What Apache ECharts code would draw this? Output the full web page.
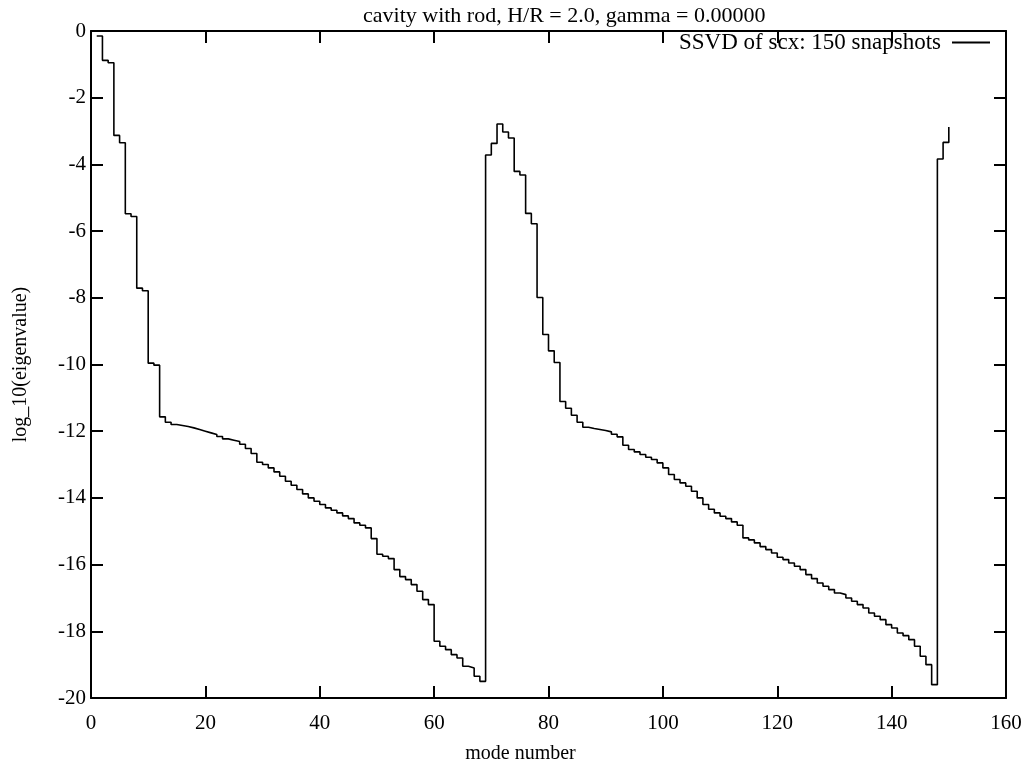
<!DOCTYPE html>
<html><head><meta charset="utf-8">
<script src="https://cdn.jsdelivr.net/npm/echarts@6/dist/echarts.min.js"></script>
<style>html,body{margin:0;padding:0;background:#fff}#c{width:1033px;height:769px}</style>
</head><body><div id="c"></div>
<script>
const chartTitle = 'cavity with rod, H/R = 2.0, gamma = 0.00000';
const seriesName = 'SSVD of scx: 150 snapshots';
const xName = 'mode number';
const yName = 'log_10(eigenvalue)';
const xTicks = [0, 20, 40, 60, 80, 100, 120, 140, 160];
const yTicks = [-20, -18, -16, -14, -12, -10, -8, -6, -4, -2, 0];

// modes 1..68
const branch1 = [
  -0.15, -0.88, -0.95, -3.13, -3.35, -5.48, -5.56, -7.71, -7.79, -9.96,
  -10.02, -11.57, -11.73, -11.80, -11.83, -11.86, -11.90, -11.95, -12.00, -12.05,
  -12.10, -12.16, -12.23, -12.27, -12.31, -12.39, -12.52, -12.67, -12.93, -13.00,
  -13.10, -13.22, -13.35, -13.50, -13.62, -13.75, -13.88, -14.00, -14.10, -14.20,
  -14.30, -14.37, -14.45, -14.54, -14.62, -14.75, -14.82, -14.90, -15.22, -15.69,
  -15.75, -15.82, -16.15, -16.36, -16.45, -16.60, -16.80, -17.05, -17.20, -18.30,
  -18.45, -18.55, -18.70, -18.80, -19.05, -19.10, -19.35, -19.50
];
// modes 69..147
const branch2 = [
  -3.72, -3.37, -2.79, -3.03, -3.21, -4.21, -4.32, -5.47, -5.78, -7.99,
  -9.10, -9.59, -9.94, -11.11, -11.31, -11.52, -11.73, -11.88, -11.92, -11.95,
  -11.98, -12.02, -12.09, -12.17, -12.42, -12.55, -12.62, -12.70, -12.78, -12.85,
  -12.95, -13.10, -13.30, -13.45, -13.55, -13.65, -13.80, -14.00, -14.20, -14.34,
  -14.45, -14.55, -14.62, -14.72, -14.82, -15.20, -15.26, -15.35, -15.46, -15.55,
  -15.65, -15.78, -15.85, -15.95, -16.05, -16.15, -16.30, -16.42, -16.55, -16.65,
  -16.75, -16.85, -16.90, -17.00, -17.10, -17.20, -17.30, -17.45, -17.55, -17.65,
  -17.80, -17.90, -18.05, -18.13, -18.25, -18.45, -18.75, -19.00, -19.60
];
// modes 148..150
const branch3 = [-3.84, -3.34, -2.88];

const values = branch1.concat(branch2, branch3);
const data = values.map((v, i) => [i + 1, v]);

const font = '"Liberation Serif", "DejaVu Serif", serif';
const axisLine = { show: true, onZero: false, lineStyle: { color: '#000', width: 2 } };
const tick = { show: true, inside: true, length: 12, lineStyle: { color: '#000', width: 2 } };

const chart = echarts.init(document.getElementById('c'), null, { renderer: 'canvas' });
chart.setOption({
  animation: false,
  backgroundColor: '#fff',
  title: {
    text: chartTitle, left: 358, top: 0,
    textStyle: { fontFamily: font, fontSize: 22, fontWeight: 'normal', color: '#000' }
  },
  legend: {
    show: true, right: 38, top: 26, align: 'right',
    itemWidth: 38, itemHeight: 2, itemGap: 10,
    icon: 'rect',
    textStyle: { fontFamily: font, fontSize: 23, color: '#000', padding: [0, 6, 0, 0] },
    data: [seriesName]
  },
  grid: { left: 91, right: 27, top: 31, bottom: 65 },
  xAxis: [{
    type: 'value', min: xTicks[0], max: xTicks[xTicks.length - 1],
    interval: xTicks[1] - xTicks[0],
    name: xName, nameLocation: 'middle', nameGap: 46,
    nameTextStyle: { fontFamily: font, fontSize: 20, color: '#000', padding: [0, 56, 0, 0] },
    axisLine: axisLine, axisTick: tick, splitLine: { show: false },
    axisLabel: { fontFamily: font, fontSize: 21, color: '#000', margin: 15 }
  }, {
    type: 'value', position: 'top', min: xTicks[0], max: xTicks[xTicks.length - 1],
    interval: xTicks[1] - xTicks[0],
    axisLine: axisLine, axisTick: tick, splitLine: { show: false },
    axisLabel: { show: false }
  }],
  yAxis: [{
    type: 'value', min: yTicks[0], max: yTicks[yTicks.length - 1],
    interval: yTicks[1] - yTicks[0],
    name: yName, nameLocation: 'middle', nameGap: 60, nameRotate: 90,
    nameTextStyle: { fontFamily: font, fontSize: 20, color: '#000' },
    axisLine: axisLine, axisTick: tick, splitLine: { show: false },
    axisLabel: { fontFamily: font, fontSize: 21, color: '#000', margin: 5 }
  }, {
    type: 'value', position: 'right', min: yTicks[0], max: yTicks[yTicks.length - 1],
    interval: yTicks[1] - yTicks[0],
    axisLine: axisLine, axisTick: tick, splitLine: { show: false },
    axisLabel: { show: false }
  }],
  series: [{
    name: seriesName, type: 'line', step: 'end',
    xAxisIndex: 0, yAxisIndex: 0,
    data: data, showSymbol: false, symbol: 'none',
    lineStyle: { color: '#000', width: 1.6 },
    itemStyle: { color: '#000' }
  }]
});
</script></body></html>
